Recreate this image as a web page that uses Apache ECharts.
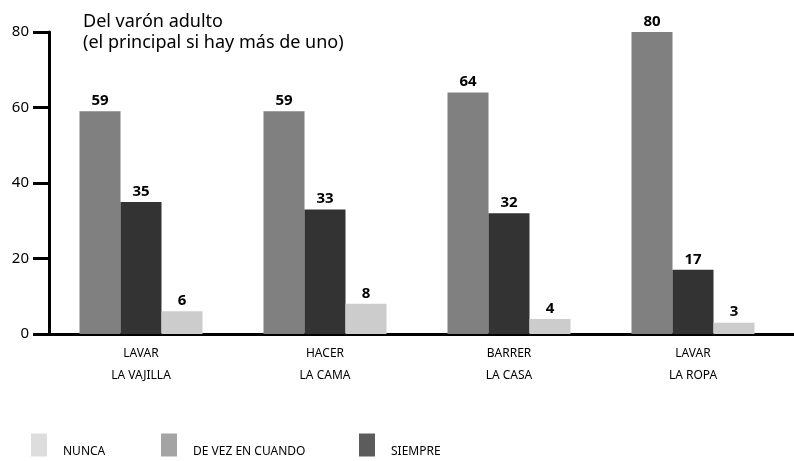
<!DOCTYPE html>
<html>
<head>
<meta charset="utf-8">
<script src="https://cdn.jsdelivr.net/npm/echarts@6/dist/echarts.min.js"></script>
<style>
  html, body { margin: 0; padding: 0; background: #fff; }
  #chart { width: 794px; height: 461px; }
</style>
</head>
<body>
<div id="chart"></div>
<script>
// Tareas domésticas: frecuencia con la que las realiza el varón adulto (%)
const categories = ['LAVAR\nLA VAJILLA', 'HACER\nLA CAMA', 'BARRER\nLA CASA', 'LAVAR\nLA ROPA'];
const deVezEnCuando = [59, 59, 64, 80];
const siempre = [35, 33, 32, 17];
const nunca = [6, 8, 4, 3];
const yTicks = [0, 20, 40, 60, 80];

const FONT = 'Noto Sans';
const chart = echarts.init(document.getElementById('chart'), null, { renderer: 'canvas' });

const valueLabel = {
  show: true,
  position: 'top',
  distance: 3,
  color: '#000',
  fontFamily: FONT,
  fontWeight: 'bold',
  fontSize: 15
};

// Legend entries sit one per component so each can be placed on its own;
// the leading blank line drops the name to the swatch's lower edge.
function legendFor(name, color, left) {
  return {
    show: true,
    left: left,
    top: 431,
    padding: 0,
    orient: 'horizontal',
    icon: 'rect',
    itemWidth: 16,
    itemHeight: 23,
    selectedMode: false,
    data: [{ name: name, itemStyle: { color: color } }],
    formatter: n => '\n' + n,
    textStyle: {
      fontFamily: FONT,
      fontSize: 12,
      lineHeight: 14,
      color: '#000',
      padding: [0, 0, 0, 11]
    }
  };
}

chart.setOption({
  animation: false,
  backgroundColor: '#fff',
  title: {
    text: 'Del varón adulto\n(el principal si hay más de uno)',
    left: 78,
    top: 6,
    textStyle: {
      fontFamily: FONT,
      fontWeight: 'normal',
      fontSize: 18,
      lineHeight: 21,
      color: '#000'
    }
  },
  legend: [
    legendFor('NUNCA', '#dddddd', 31),
    legendFor('DE VEZ EN CUANDO', '#a4a4a4', 161),
    legendFor('SIEMPRE', '#5c5c5c', 359)
  ],
  grid: [
    { left: 49, right: 9, top: 32, bottom: 127, containLabel: false },
    { left: 49, right: 0, top: 32, bottom: 127, containLabel: false }
  ],
  xAxis: [
    {
      type: 'category',
      gridIndex: 0,
      data: categories,
      axisLine: { show: true, lineStyle: { color: '#000', width: 3 } },
      axisTick: { show: false },
      axisLabel: {
        fontFamily: FONT,
        fontSize: 12,
        color: '#000',
        lineHeight: 22,
        margin: 9
      }
    },
    {
      type: 'category',
      gridIndex: 1,
      data: categories,
      axisLine: { show: true, lineStyle: { color: '#000', width: 3 } },
      axisTick: { show: false },
      axisLabel: { show: false }
    }
  ],
  yAxis: [
    {
      type: 'value',
      gridIndex: 0,
      min: 0,
      max: 80,
      interval: 20,
      axisLine: { show: true, lineStyle: { color: '#000', width: 3 } },
      axisTick: { show: true, length: 16, lineStyle: { color: '#000', width: 3 } },
      splitLine: { show: false },
      axisLabel: {
        fontFamily: FONT,
        fontSize: 15,
        color: '#000',
        margin: 20,
        formatter: v => (yTicks.includes(v) ? String(v) : '')
      }
    },
    {
      type: 'value',
      gridIndex: 1,
      min: 0,
      max: 80,
      show: false
    }
  ],
  series: [
    {
      name: 'DE VEZ EN CUANDO',
      type: 'bar',
      xAxisIndex: 0,
      yAxisIndex: 0,
      data: deVezEnCuando,
      barWidth: 41,
      barGap: '0%',
      itemStyle: { color: '#808080' },
      label: valueLabel
    },
    {
      name: 'SIEMPRE',
      type: 'bar',
      xAxisIndex: 0,
      yAxisIndex: 0,
      data: siempre,
      barWidth: 41,
      barGap: '0%',
      itemStyle: { color: '#333333' },
      label: valueLabel
    },
    {
      name: 'NUNCA',
      type: 'bar',
      xAxisIndex: 0,
      yAxisIndex: 0,
      data: nunca,
      barWidth: 41,
      barGap: '0%',
      itemStyle: { color: '#cccccc' },
      label: valueLabel
    }
  ]
});
</script>
</body>
</html>
